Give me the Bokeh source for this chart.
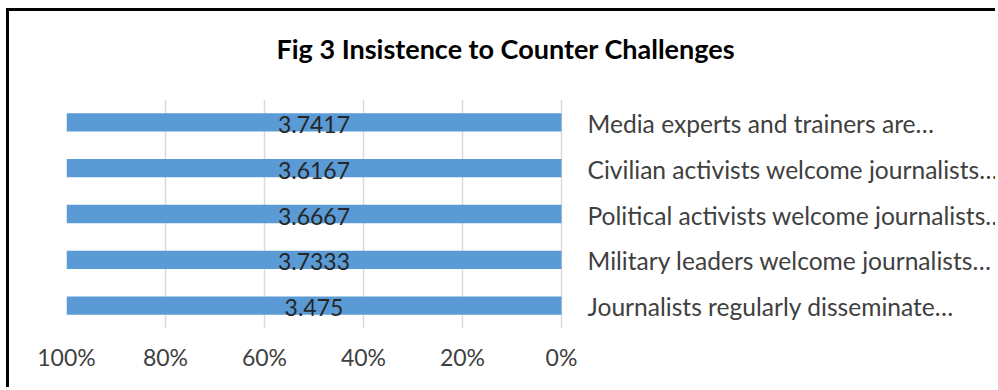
from bokeh.plotting import figure
from bokeh.models import (Range1d, FactorRange, FixedTicker, ColumnDataSource,
                          LabelSet, Title, GlobalInlineStyleSheet)
from bokeh.core.properties import value
from bokeh.embed import file_html
from bokeh.resources import INLINE

# ---- data (bottom to top) ----
categories = [
    "Journalists regularly disseminate\u2026",
    "Military leaders welcome journalists\u2026",
    "Political activists welcome journalists\u2026",
    "Civilian activists welcome journalists\u2026",
    "Media experts and trainers are\u2026",
]
values = [3.475, 3.7333, 3.6667, 3.6167, 3.7417]
value_labels = ["3.475", "3.7333", "3.6667", "3.6167", "3.7417"]
tick_values = [0, 20, 40, 60, 80, 100]
tick_labels = ["0%", "20%", "40%", "60%", "80%", "100%"]
title_text = "Fig 3 Insistence to Counter Challenges"

# 100% stacked bar with a single series: each bar's share of its category total
totals = [v for v in values]
shares = [100.0 * v / t for v, t in zip(values, totals)]

src = ColumnDataSource(dict(
    cat=categories, share=shares, lbl=value_labels,
    mid=[s / 2 for s in shares], zero=[0] * len(categories),
))

FONT = "Lato"

# plot area: 100% at left edge, 0% at 495px to the right; the frame continues
# to the right so the category labels can sit inside it
W, H = 989, 379
LEFT, TOP, BOTTOM = 57, 88, 62
PX_PER_PCT = 4.95
x_end = 100 - (W - LEFT) / PX_PER_PCT

p = figure(
    width=W, height=H,
    x_range=Range1d(100, x_end),
    y_range=FactorRange(factors=categories, range_padding=0),
    y_axis_location=None,
    output_backend="svg", toolbar_location=None,
    min_border_left=LEFT, min_border_right=0,
    min_border_top=TOP, min_border_bottom=BOTTOM,
)
p.styles = {
    "position": "absolute", "left": "6px", "top": "8px",
    "border-left": "3px solid #000000", "border-top": "3px solid #000000",
}
p.stylesheets = [GlobalInlineStyleSheet(css="html, body { overflow: hidden; margin: 0; }")]

p.hbar(y="cat", left="zero", right="share", height=0.40, source=src,
       fill_color="#5B9BD5", line_color=None)

p.add_layout(LabelSet(x="mid", y="cat", text="lbl", source=src,
                      text_align="center", text_baseline="middle",
                      y_offset=-2, text_font=value(FONT), text_font_size="23px",
                      text_color="#262626"))
p.add_layout(LabelSet(x="zero", y="cat", text="cat", source=src,
                      x_offset=26, text_align="left", text_baseline="middle",
                      y_offset=-1, text_font=value(FONT), text_font_size="24.6px",
                      text_color="#404040"))

ax = p.xaxis[0]
ax.ticker = FixedTicker(ticks=tick_values)
ax.major_label_overrides = {t: l for t, l in zip(tick_values, tick_labels)}
ax.axis_line_color = None
ax.major_tick_line_color = None
ax.minor_tick_line_color = None
ax.major_label_text_font = FONT
ax.major_label_text_font_size = "23px"
ax.major_label_text_color = "#404040"
ax.major_label_standoff = 8

p.xgrid.ticker = FixedTicker(ticks=tick_values)
p.xgrid.grid_line_color = "#D9D9D9"
p.xgrid.grid_line_width = 1.5
p.ygrid.grid_line_color = None
p.outline_line_color = None

# title: a thin spacer panel next to the plot area, then the title itself
p.title.text = ""
p.add_layout(Title(text=" ", text_font_size="1px", standoff=27), "above")
p.add_layout(Title(text=title_text, align="left", offset=210, standoff=10,
                   text_font=FONT, text_font_size="27px", text_font_style="bold",
                   text_color="#000000"), "above")

open("out.html", "w").write(file_html(p, INLINE))
